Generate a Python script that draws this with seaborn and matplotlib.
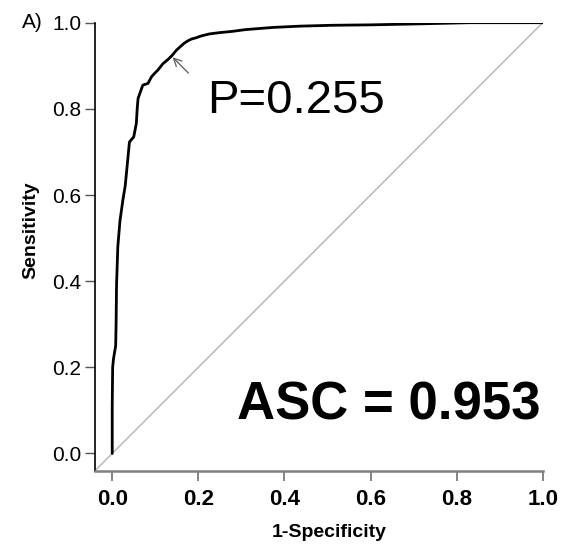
import matplotlib
matplotlib.use("Agg")
import matplotlib.pyplot as plt
import seaborn as sns
import pandas as pd

# ROC curve values
fpr = [0.0, 0.0, 0.001, 0.003, 0.008, 0.009, 0.010, 0.013, 0.018, 0.025, 0.030,
       0.033, 0.040, 0.050, 0.056, 0.058, 0.060, 0.071, 0.083, 0.091, 0.098,
       0.106, 0.118, 0.130, 0.140, 0.149, 0.160, 0.168, 0.176, 0.184, 0.195,
       0.206, 0.226, 0.25, 0.28, 0.31, 0.373, 0.436, 0.51, 0.60, 0.70, 0.83, 1.0]
tpr = [0.0, 0.11, 0.20, 0.22, 0.25, 0.30, 0.39, 0.48, 0.54, 0.59, 0.62,
       0.65, 0.723, 0.735, 0.766, 0.80, 0.824, 0.855, 0.859, 0.874, 0.882,
       0.890, 0.905, 0.915, 0.925, 0.936, 0.946, 0.953, 0.958, 0.962, 0.965,
       0.969, 0.974, 0.977, 0.980, 0.984, 0.989, 0.992, 0.994, 0.995, 0.997, 1.0, 1.0]
ticks = [0.0, 0.2, 0.4, 0.6, 0.8, 1.0]
tick_labels = ["0.0", "0.2", "0.4", "0.6", "0.8", "1.0"]
cut_point = (0.140, 0.920)
cut_label = "P=0.255"
auc_label = "ASC = 0.953"

sns.set_style("ticks")
plt.rcParams['font.family'] = ['Liberation Sans', 'DejaVu Sans']
plt.rcParams['text.color'] = 'black'
plt.rcParams['axes.labelcolor'] = 'black'
plt.rcParams['xtick.labelcolor'] = 'black'
plt.rcParams['ytick.labelcolor'] = 'black'

fig = plt.figure(figsize=(5.67, 5.5), dpi=100)
ax = fig.add_axes([95/567, 1-470.7/550, 447.7/567, 448/550])

df = pd.DataFrame({"fpr": fpr, "tpr": tpr})
sns.lineplot(data=df, x="fpr", y="tpr", sort=False, estimator=None,
             color="black", lw=2, ax=ax)
ax.axline((0, 0), (1, 1), color="#b4b4b4", lw=1, zorder=1)

ax.set_xlim(-0.04, 1.0)
ax.set_ylim(-0.04, 1.0)
ax.set_xticks(ticks)
ax.set_xticklabels(tick_labels, fontsize=16, fontweight="bold", color="black")
ax.set_yticks(ticks)
ax.set_yticklabels(tick_labels, fontsize=15, color="black")
ax.tick_params(axis="y", length=7, width=1, color="#555555", pad=3)
ax.tick_params(axis="x", length=7, width=1.2, color="#707070", pad=6)

for s in ["top", "right"]:
    ax.spines[s].set_visible(False)
ax.spines["left"].set_color("black")
ax.spines["left"].set_linewidth(1.2)
ax.spines["bottom"].set_color("#808080")
ax.spines["bottom"].set_linewidth(1.8)

ax.set_xlabel("1-Specificity", fontsize=14, fontweight="bold", color="black")
ax.set_ylabel("Sensitivity", fontsize=14, fontweight="bold", color="black")
ax.xaxis.set_label_coords(0.523, -0.12)
ax.yaxis.set_label_coords(-0.125, 0.537)

ax.annotate("", xy=cut_point, xytext=(0.177, 0.883),
            arrowprops=dict(arrowstyle="->", color="#666666", lw=1,
                            mutation_scale=14, shrinkA=0, shrinkB=0))
ax.text(0.22, 0.79, cut_label, fontsize=34, ha="left", va="baseline", color="black")
ax.text(0.995, 0.08, auc_label, fontsize=38, fontweight="bold",
        ha="right", va="baseline", color="black")

fig.text(22/567, 1-23/550, "A)", fontsize=15, ha="left", va="center", color="black")

fig.savefig("out.png", dpi=100)
